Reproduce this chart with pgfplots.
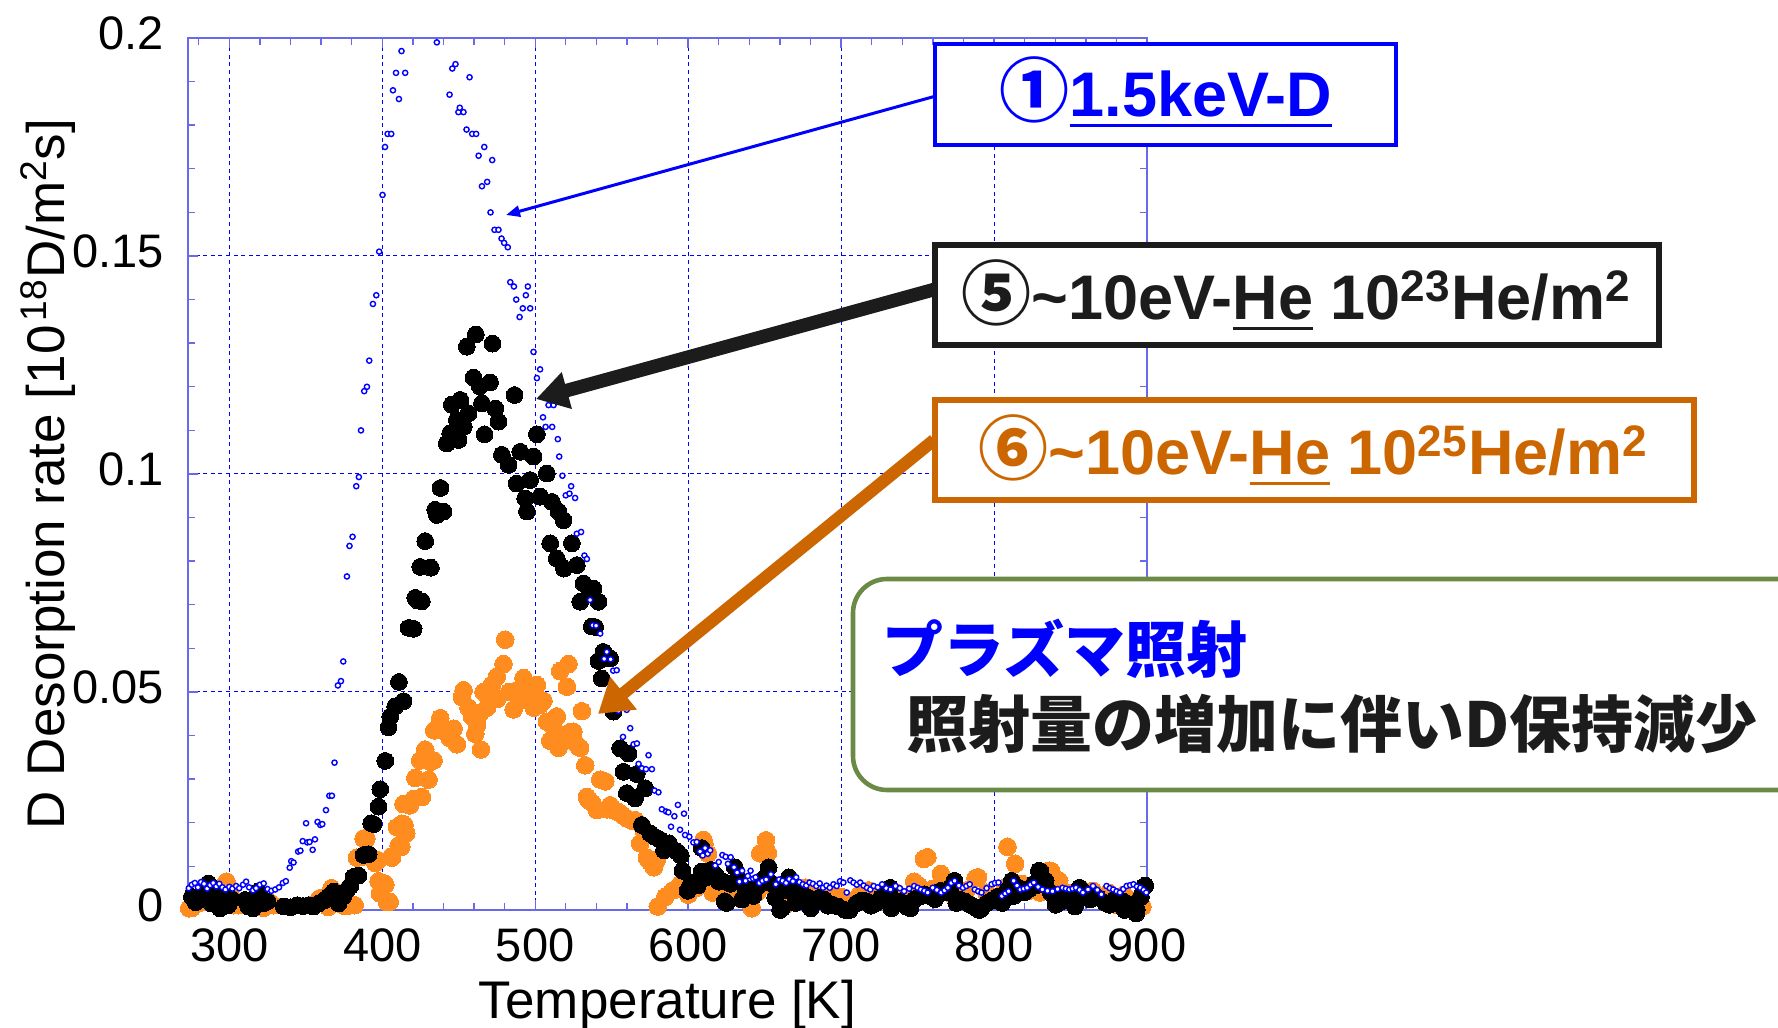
\documentclass[border=0pt]{standalone}
\usepackage{pgfplots}
\pgfplotsset{compat=1.18}
\usetikzlibrary{arrows.meta}
\usepackage{fontspec}
\setmainfont{Liberation Sans}
\newfontfamily\jpfont{Noto Sans CJK JP}

\definecolor{plotblue}{RGB}{0,0,255}
\definecolor{axisblue}{RGB}{105,105,235}
\definecolor{dorange}{RGB}{255,140,30}
\definecolor{boxorange}{RGB}{204,102,0}
\definecolor{boxgreen}{RGB}{106,138,70}
\definecolor{inkblack}{RGB}{28,28,28}

% thick underline for the highlighted words
\newcommand\ul[1]{\setbox0\hbox{#1}\rlap{\rule[-0.16em]{\wd0}{0.055em}}\box0\relax}
% circled series numbers, set a little larger than the text
\newcommand\circnum[1]{{\jpfont\bfseries\fontsize{35pt}{36pt}\selectfont #1}}

\pgfplotstableread{
T r
273.8 0.0004
275.6 0.0005
277.5 0.0020
280.0 0.0015
283.5 0.0028
290.0 0.0020
297.4 0.0061
298.2 0.0065
300.5 0.0040
302.6 0.0011
306.1 0.0011
310.0 0.0018
315.0 0.0010
322.4 0.0005
326.8 0.0017
328.7 0.0011
355.0 0.0012
359.2 0.0027
362.0 0.0018
364.6 0.0007
366.8 0.0050
369.3 0.0034
372.0 0.0015
375.0 0.0010
378.0 0.0010
382.0 0.0011
383.4 0.0120
386.4 0.0122
387.8 0.0164
389.7 0.0164
395.4 0.0108
397.3 0.0114
397.6 0.0066
398.4 0.0038
401.6 0.0061
402.0 0.0058
403.0 0.0018
404.9 0.0019
405.9 0.0122
406.3 0.0120
409.6 0.0190
410.7 0.0148
412.5 0.0145
412.9 0.0198
413.9 0.0243
414.6 0.0195
415.0 0.0174
415.7 0.0176
418.0 0.0240
420.5 0.0255
421.6 0.0303
424.8 0.0343
425.9 0.0259
428.1 0.0368
430.3 0.0299
431.5 0.0340
433.6 0.0343
434.0 0.0412
437.9 0.0440
441.0 0.0410
444.0 0.0395
446.7 0.0416
448.8 0.0380
452.1 0.0488
453.2 0.0504
456.4 0.0464
458.6 0.0444
460.8 0.0404
461.9 0.0424
464.1 0.0452
464.5 0.0368
466.2 0.0500
468.4 0.0464
471.7 0.0516
474.9 0.0535
475.2 0.0484
479.3 0.0564
480.4 0.0620
483.0 0.0500
485.9 0.0460
488.0 0.0504
490.0 0.0480
492.4 0.0532
494.5 0.0500
496.7 0.0492
499.0 0.0464
501.1 0.0516
503.0 0.0470
505.4 0.0480
507.6 0.0432
509.8 0.0388
512.0 0.0420
514.1 0.0444
515.2 0.0372
516.3 0.0548
517.5 0.0395
520.7 0.0512
521.8 0.0564
522.9 0.0408
525.0 0.0409
526.1 0.0384
528.3 0.0375
529.4 0.0372
530.5 0.0456
532.7 0.0332
533.8 0.0259
534.9 0.0252
537.5 0.0245
540.3 0.0229
542.5 0.0299
545.8 0.0295
546.8 0.0231
549.0 0.0240
551.2 0.0229
554.0 0.0225
557.0 0.0218
560.0 0.0210
563.0 0.0205
565.3 0.0206
568.6 0.0153
571.0 0.0183
573.0 0.0120
575.0 0.0111
577.6 0.0098
579.5 0.0115
580.1 0.0008
585.0 0.0030
590.0 0.0045
595.0 0.0060
600.0 0.0035
605.0 0.0050
610.0 0.0161
610.7 0.0152
612.9 0.0129
616.0 0.0040
620.0 0.0060
625.0 0.0030
630.0 0.0045
635.0 0.0025
641.6 0.0004
645.0 0.0040
647.1 0.0130
650.9 0.0160
652.1 0.0131
656.0 0.0050
660.0 0.0030
663.6 0.0012
668.0 0.0040
672.0 0.0030
676.9 0.0051
682.0 0.0035
688.0 0.0025
694.0 0.0040
700.0 0.0030
706.0 0.0020
712.0 0.0035
718.0 0.0045
724.0 0.0030
730.0 0.0020
736.0 0.0040
742.0 0.0030
747.8 0.0065
751.0 0.0055
754.1 0.0117
756.4 0.0121
760.3 0.0049
765.2 0.0083
770.0 0.0040
776.0 0.0030
782.0 0.0045
787.9 0.0073
789.5 0.0075
795.0 0.0040
801.0 0.0030
807.2 0.0051
808.8 0.0145
813.8 0.0106
818.0 0.0060
824.0 0.0045
830.0 0.0040
836.0 0.0090
837.5 0.0089
842.6 0.0067
848.0 0.0040
853.0 0.0030
858.0 0.0045
864.6 0.0044
870.0 0.0030
875.0 0.0040
880.1 0.0012
885.0 0.0035
891.1 0.0020
894.6 0.0024
897.0 0.0008
}\heHigh

\pgfplotstableread{
T r
275.5 0.0030
278.0 0.0018
280.8 0.0027
283.0 0.0045
286.3 0.0061
288.4 0.0015
291.0 0.0030
293.9 0.0004
296.0 0.0034
299.3 0.0011
301.5 0.0025
310.2 0.0023
312.4 0.0008
315.6 0.0004
318.9 0.0042
320.5 0.0028
322.2 0.0015
325.0 0.0020
335.6 0.0008
340.0 0.0006
344.3 0.0011
348.0 0.0009
351.9 0.0011
355.0 0.0008
358.5 0.0015
362.0 0.0022
365.0 0.0031
368.3 0.0042
371.5 0.0015
374.5 0.0031
377.0 0.0046
379.1 0.0055
381.3 0.0076
384.5 0.0079
387.8 0.0126
391.1 0.0128
392.8 0.0199
394.3 0.0197
397.6 0.0237
398.7 0.0277
402.0 0.0342
404.1 0.0419
405.2 0.0443
408.5 0.0467
410.9 0.0523
413.9 0.0479
417.2 0.0647
420.5 0.0645
421.6 0.0716
423.0 0.0710
424.8 0.0787
425.9 0.0708
428.1 0.0846
431.8 0.0785
434.6 0.0918
435.7 0.0906
438.1 0.0968
440.1 0.0914
442.2 0.1070
444.4 0.1093
445.5 0.1159
448.8 0.1124
449.9 0.1078
451.0 0.1170
453.2 0.1108
455.3 0.1292
456.4 0.1139
459.7 0.1221
461.2 0.1320
463.8 0.1201
465.2 0.1162
466.9 0.1091
470.5 0.1210
472.1 0.1299
473.9 0.1150
476.0 0.1120
478.2 0.1044
482.6 0.1021
486.5 0.1181
487.9 0.0978
490.2 0.1051
493.5 0.0944
494.6 0.0914
496.7 0.0986
498.9 0.1040
501.1 0.1091
503.3 0.0948
507.6 0.1001
509.8 0.0841
510.9 0.0936
514.1 0.0806
515.2 0.0914
518.5 0.0894
518.8 0.0783
524.0 0.0841
527.2 0.0791
529.4 0.0707
531.6 0.0749
535.9 0.0732
537.0 0.0650
538.1 0.0737
539.2 0.0649
541.4 0.0707
541.4 0.0571
543.5 0.0531
544.6 0.0592
549.0 0.0577
551.2 0.0455
555.5 0.0371
557.7 0.0317
559.9 0.0268
561.0 0.0359
565.3 0.0256
566.4 0.0312
569.7 0.0195
571.9 0.0279
575.1 0.0176
578.0 0.0168
581.7 0.0161
584.2 0.0137
587.5 0.0153
592.6 0.0134
595.2 0.0125
596.3 0.0090
599.7 0.0044
602.0 0.0062
606.3 0.0056
608.7 0.0088
608.9 0.0142
612.0 0.0075
615.1 0.0092
618.0 0.0080
620.1 0.0065
621.7 0.0067
623.9 0.0020
625.1 0.0016
627.5 0.0060
630.5 0.0098
633.0 0.0070
635.2 0.0024
637.2 0.0051
640.0 0.0045
642.6 0.0032
645.5 0.0055
648.0 0.0068
650.4 0.0075
652.6 0.0098
655.0 0.0060
657.0 0.0028
660.1 0.0000
661.4 0.0004
663.5 0.0045
665.9 0.0075
668.0 0.0050
670.1 0.0016
672.5 0.0035
674.7 0.0020
677.5 0.0030
680.2 0.0004
683.0 0.0018
685.7 0.0028
688.9 0.0024
691.5 0.0010
694.6 0.0012
698.0 0.0008
702.7 0.0000
705.6 0.0000
710.0 0.0015
713.5 0.0022
716.7 0.0020
719.5 0.0010
722.8 0.0016
726.0 0.0028
729.0 0.0040
732.1 0.0051
732.8 0.0004
735.5 0.0015
738.7 0.0020
742.8 0.0008
745.4 0.0004
747.8 0.0024
751.0 0.0030
754.2 0.0036
757.8 0.0032
761.5 0.0025
765.2 0.0044
769.0 0.0040
771.5 0.0052
774.1 0.0067
775.3 0.0016
777.4 0.0024
781.0 0.0020
784.5 0.0012
787.5 0.0006
790.3 0.0000
791.7 0.0004
795.0 0.0015
798.5 0.0022
802.0 0.0030
805.0 0.0028
805.3 0.0016
808.5 0.0045
811.6 0.0067
812.8 0.0032
816.0 0.0051
819.5 0.0040
823.0 0.0048
826.0 0.0060
827.9 0.0057
829.3 0.0090
830.4 0.0089
833.7 0.0067
837.0 0.0040
840.3 0.0012
840.4 0.0024
844.0 0.0020
847.5 0.0030
851.4 0.0020
852.9 0.0008
855.8 0.0051
859.0 0.0040
862.9 0.0024
864.6 0.0036
868.0 0.0028
872.9 0.0016
875.6 0.0012
879.0 0.0025
882.0 0.0018
884.5 0.0020
885.4 0.0000
888.5 0.0012
892.9 -0.0008
893.3 0.0000
896.0 0.0030
897.9 0.0053
898.8 0.0056
}\heLow

\pgfplotstableread{
T r
273.5 0.0050
275.5 0.0058
277.5 0.0062
279.5 0.0052
281.5 0.0064
283.5 0.0060
285.5 0.0049
287.5 0.0057
289.5 0.0062
291.5 0.0054
293.5 0.0060
295.5 0.0052
297.5 0.0047
300.0 0.0053
302.0 0.0049
304.5 0.0055
306.5 0.0050
309.0 0.0058
311.0 0.0065
313.0 0.0052
315.5 0.0045
317.5 0.0050
320.0 0.0058
322.5 0.0061
325.0 0.0048
327.5 0.0044
330.0 0.0047
332.5 0.0052
335.0 0.0062
337.0 0.0066
339.5 0.0097
340.5 0.0112
342.0 0.0109
345.0 0.0134
346.5 0.0136
348.0 0.0158
350.2 0.0199
351.0 0.0155
352.5 0.0156
354.5 0.0138
356.0 0.0162
357.7 0.0202
359.5 0.0195
360.8 0.0197
363.2 0.0229
365.4 0.0262
367.1 0.0262
368.8 0.0338
371.0 0.0515
373.0 0.0525
374.5 0.0570
376.9 0.0765
378.6 0.0835
380.6 0.0856
383.0 0.0972
384.7 0.0993
386.1 0.1100
388.2 0.1190
390.0 0.1200
391.5 0.1260
393.9 0.1390
396.1 0.1410
398.0 0.1510
400.2 0.1640
401.8 0.1750
403.5 0.1780
405.9 0.1780
407.0 0.1880
409.0 0.1920
410.9 0.1860
412.6 0.1970
415.0 0.1920
435.7 0.1990
444.0 0.1870
445.8 0.1930
447.9 0.1940
449.8 0.1830
450.7 0.1840
453.1 0.1830
455.1 0.1790
457.1 0.1910
458.8 0.1780
461.4 0.1780
463.0 0.1730
465.2 0.1660
466.7 0.1750
468.6 0.1670
470.8 0.1600
471.9 0.1720
473.4 0.1560
476.0 0.1560
478.0 0.1540
479.7 0.1530
482.1 0.1520
483.7 0.1440
486.1 0.1430
487.6 0.1400
489.8 0.1360
491.9 0.1380
493.9 0.1410
495.2 0.1430
496.7 0.1380
498.9 0.1280
501.1 0.1220
503.2 0.1240
505.1 0.1130
506.8 0.1108
508.7 0.1158
511.1 0.1108
512.0 0.1158
514.8 0.1080
515.7 0.1040
517.8 0.0996
520.0 0.0951
522.4 0.0955
523.5 0.0972
526.1 0.0945
527.2 0.0863
530.0 0.0867
532.2 0.0813
533.8 0.0805
535.9 0.0711
537.6 0.0653
539.8 0.0652
542.5 0.0634
545.1 0.0576
546.8 0.0592
549.3 0.0575
551.0 0.0549
553.3 0.0550
554.5 0.0457
557.4 0.0397
559.8 0.0459
562.1 0.0417
564.3 0.0380
566.5 0.0382
567.6 0.0335
569.8 0.0325
572.4 0.0323
574.1 0.0355
576.3 0.0323
578.0 0.0274
580.6 0.0270
582.8 0.0231
585.6 0.0226
587.1 0.0224
588.8 0.0191
591.0 0.0215
593.3 0.0241
594.7 0.0184
597.3 0.0221
598.0 0.0172
600.8 0.0168
603.4 0.0155
605.6 0.0156
607.8 0.0134
609.5 0.0125
611.1 0.0142
612.8 0.0129
614.4 0.0137
617.7 0.0102
620.0 0.0110
622.4 0.0126
624.5 0.0122
626.0 0.0106
627.8 0.0121
630.0 0.0098
632.0 0.0086
633.5 0.0065
635.3 0.0090
637.5 0.0067
639.0 0.0078
640.8 0.0090
642.5 0.0072
644.1 0.0075
646.5 0.0062
648.5 0.0067
651.0 0.0070
654.1 0.0082
657.3 0.0059
659.5 0.0070
661.7 0.0067
664.0 0.0062
666.1 0.0071
668.5 0.0066
670.6 0.0075
672.8 0.0064
675.0 0.0059
677.2 0.0056
679.4 0.0063
681.6 0.0060
683.8 0.0055
686.0 0.0061
688.2 0.0051
690.4 0.0056
692.6 0.0051
695.0 0.0059
697.1 0.0055
699.3 0.0066
701.5 0.0063
703.7 0.0040
706.0 0.0068
708.1 0.0063
710.3 0.0058
712.5 0.0063
714.7 0.0056
716.9 0.0051
719.1 0.0047
721.3 0.0055
724.0 0.0052
726.8 0.0059
729.5 0.0050
732.3 0.0047
735.6 0.0055
738.4 0.0050
741.2 0.0043
744.5 0.0049
747.8 0.0055
750.0 0.0051
752.2 0.0047
754.4 0.0044
756.6 0.0040
759.9 0.0051
762.6 0.0046
765.4 0.0040
767.6 0.0045
769.8 0.0051
772.0 0.0062
774.2 0.0067
777.0 0.0056
779.7 0.0051
781.9 0.0055
784.1 0.0059
787.4 0.0047
789.6 0.0043
791.8 0.0040
795.1 0.0050
798.4 0.0059
800.6 0.0062
802.9 0.0063
805.1 0.0032
807.3 0.0038
809.5 0.0043
812.8 0.0067
815.0 0.0056
817.2 0.0047
819.4 0.0049
821.6 0.0051
823.8 0.0058
826.0 0.0063
828.8 0.0053
831.6 0.0047
834.9 0.0044
838.2 0.0043
841.5 0.0048
844.8 0.0051
847.0 0.0049
849.2 0.0047
851.4 0.0049
853.6 0.0051
855.9 0.0046
858.1 0.0040
861.4 0.0047
864.7 0.0055
867.5 0.0046
870.2 0.0036
873.5 0.0055
875.7 0.0050
877.9 0.0047
880.1 0.0043
882.3 0.0040
884.5 0.0048
886.7 0.0055
889.0 0.0057
891.2 0.0059
893.4 0.0054
895.6 0.0051
897.8 0.0046
899.5 0.0040
}\keVD

\begin{document}
\begin{tikzpicture}
% page frame: 1778 x 1028 px at 0.5pt per px, axis box corner at (188,910) px
\path[use as bounding box] (-94pt,-59pt) rectangle (795pt,455pt);

\begin{axis}[
  at={(0pt,0pt)}, anchor=south west,
  scale only axis, width=479.5pt, height=436pt,
  xmin=273, xmax=900, ymin=0, ymax=0.2,
  xtick={300,400,500,600,700,800,900},
  xticklabels={300,400,500,600,700,800,900},
  ytick={0,0.05,0.1,0.15,0.2},
  yticklabels={0,0.05,0.1,0.15,0.2},
  minor xtick={280,300,...,900},
  minor ytick={0,0.01,...,0.2},
  tick align=inside,
  major tick length=5pt, minor tick length=3.5pt,
  every tick/.style={axisblue, line width=0.7pt},
  axis line style={axisblue, line width=1pt},
  grid=major,
  major grid style={plotblue, line width=0.5pt, dash pattern=on 2pt off 1.8pt},
  ticklabel style={font=\fontsize{23.5pt}{26pt}\selectfont, inner sep=0pt},
  xticklabel style={anchor=north, yshift=-9pt},
  yticklabel style={anchor=east, xshift=-12pt, yshift=2.5pt},
  label style={font=\fontsize{26.5pt}{30pt}\selectfont, inner sep=0pt},
  xlabel={Temperature [K]},
  ylabel={D Desorption rate [10\kern0.08em\textsuperscript{18}D/m\textsuperscript{2}s]},
  xlabel style={at={(axis description cs:0.5,-0.1239)}, anchor=base},
  ylabel style={at={(axis description cs:-0.1283,0.5)}, anchor=base},
  clip=false,
]
  % 10^25 He/m^2
  \addplot[only marks, mark=*, mark size=4.4pt, color=dorange,
           mark options={draw=dorange, fill=dorange, line width=0pt}] table[x=T, y=r] {\heHigh};
  % 10^23 He/m^2
  \addplot[only marks, mark=*, mark size=4.2pt, color=black,
           mark options={draw=black, fill=black, line width=0pt}] table[x=T, y=r] {\heLow};
  % 1.5 keV D
  \addplot[only marks, mark=*, mark size=1.3pt, color=plotblue,
           mark options={draw=plotblue, fill=white, line width=0.7pt}] table[x=T, y=r] {\keVD};
\end{axis}

% annotations in pixel units of the 1778 x 1028 frame
\begin{scope}[x=0.5pt, y=-0.5pt, shift={(-94pt,455pt)}]
  % arrows
  \draw[plotblue, line width=1.5pt, -{Triangle[length=7pt,width=5.5pt]}] (936,96) -- (506,215);
  \draw[inkblack, line width=6.8pt, -{Triangle[length=16pt,width=18pt]}] (936,289) -- (536,399);
  \draw[boxorange, line width=6.2pt, -{Triangle[length=16.5pt,width=20pt]}] (934,440) -- (598,714);

  % label boxes
  \draw[plotblue, line width=2pt, fill=white] (935,44) rectangle (1396,145);
  \node[anchor=base, inner sep=0pt, text=plotblue,
        font=\fontsize{31.5pt}{36pt}\selectfont\bfseries] at (1166,117)
        {\circnum{①}\ul{1.5keV-D}};

  \draw[inkblack, line width=3pt, fill=white] (935,245) rectangle (1659,345);
  \node[anchor=base, inner sep=0pt, text=inkblack,
        font=\fontsize{31.5pt}{36pt}\selectfont\bfseries] at (1296,320)
        {\circnum{⑤}\textasciitilde10eV-\ul{He} 10\textsuperscript{23}He/m\textsuperscript{2}};

  \draw[boxorange, line width=3pt, fill=white] (935,400) rectangle (1694,500);
  \node[anchor=base, inner sep=0pt, text=boxorange,
        font=\fontsize{31.5pt}{36pt}\selectfont\bfseries] at (1313,475)
        {\circnum{⑥}\textasciitilde10eV-\ul{He} 10\textsuperscript{25}He/m\textsuperscript{2}};

  % summary box
  \draw[boxgreen, line width=2.3pt, fill=white, rounded corners=17pt] (853,579) rectangle (1830,790);
  \node[anchor=base west, inner sep=0pt, text=plotblue,
        font=\fontsize{30.5pt}{34pt}\jpfont\bfseries] at (882,673) {プラズマ照射};
  \node[anchor=base west, inner sep=0pt, text=inkblack,
        font=\fontsize{31pt}{34pt}\jpfont\bfseries] at (906,748) {照射量の増加に伴いD保持減少};
\end{scope}
\end{tikzpicture}
\end{document}
